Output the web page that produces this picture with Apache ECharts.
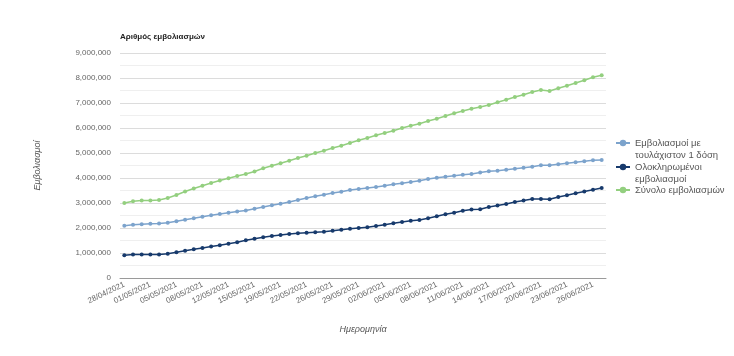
<!DOCTYPE html>
<html>
<head>
<meta charset="utf-8">
<script src="https://cdn.jsdelivr.net/npm/echarts@6/dist/echarts.min.js"></script>
<style>
html,body{margin:0;padding:0;background:#fff;}
#c{width:734px;height:356px;}
</style>
</head>
<body>
<div id="c"></div>
<script>
const dates = [
  "28/04/2021","29/04/2021","30/04/2021","01/05/2021","03/05/2021","04/05/2021","05/05/2021",
  "06/05/2021","07/05/2021","08/05/2021","10/05/2021","11/05/2021","12/05/2021","13/05/2021",
  "14/05/2021","15/05/2021","17/05/2021","18/05/2021","19/05/2021","20/05/2021","21/05/2021",
  "22/05/2021","24/05/2021","25/05/2021","26/05/2021","27/05/2021","28/05/2021","29/05/2021",
  "31/05/2021","01/06/2021","02/06/2021","03/06/2021","04/06/2021","05/06/2021","06/06/2021",
  "07/06/2021","08/06/2021","09/06/2021","10/06/2021","11/06/2021","12/06/2021","13/06/2021",
  "14/06/2021","15/06/2021","16/06/2021","17/06/2021","18/06/2021","19/06/2021","20/06/2021",
  "21/06/2021","22/06/2021","23/06/2021","24/06/2021","25/06/2021","26/06/2021","27/06/2021"
];

const seriesNames = [
  "Εμβολιασμοί με τουλάχιστον 1 δόση",
  "Ολοκληρωμένοι εμβολιασμοί",
  "Σύνολο εμβολιασμών"
];

const firstDose = [
  2090000,2130000,2150000,2170000,2180000,2210000,2270000,2330000,2390000,2450000,
  2510000,2560000,2610000,2660000,2700000,2770000,2840000,2910000,2970000,3040000,
  3120000,3200000,3270000,3330000,3400000,3450000,3520000,3560000,3600000,3640000,
  3690000,3750000,3790000,3840000,3890000,3960000,4010000,4050000,4090000,4130000,
  4160000,4220000,4270000,4290000,4330000,4370000,4410000,4450000,4510000,4510000,
  4550000,4590000,4630000,4670000,4710000,4720000
];

const completed = [
  910000,940000,940000,940000,940000,970000,1030000,1090000,1150000,1200000,
  1260000,1310000,1370000,1430000,1510000,1570000,1630000,1680000,1720000,1760000,
  1790000,1810000,1830000,1850000,1890000,1930000,1970000,2000000,2030000,2080000,
  2130000,2190000,2240000,2290000,2320000,2390000,2470000,2550000,2610000,2690000,
  2740000,2750000,2840000,2900000,2960000,3040000,3100000,3160000,3160000,3150000,
  3240000,3310000,3390000,3460000,3530000,3600000
];

const total = [
  3000000,3070000,3100000,3100000,3120000,3200000,3320000,3460000,3580000,3690000,
  3800000,3900000,3990000,4080000,4160000,4260000,4390000,4490000,4590000,4690000,
  4800000,4890000,5000000,5090000,5200000,5290000,5400000,5510000,5600000,5710000,
  5800000,5890000,6000000,6090000,6170000,6280000,6370000,6480000,6590000,6680000,
  6770000,6840000,6920000,7030000,7130000,7240000,7330000,7440000,7520000,7480000,
  7590000,7690000,7800000,7910000,8030000,8110000
];

// Legend text split in lines; a leading blank line keeps the icon level with the first line
const legendLines = {
  "Εμβολιασμοί με τουλάχιστον 1 δόση": " \nΕμβολιασμοί με\nτουλάχιστον 1 δόση",
  "Ολοκληρωμένοι εμβολιασμοί": " \nΟλοκληρωμένοι\nεμβολιασμοί",
  "Σύνολο εμβολιασμών": "Σύνολο εμβολιασμών"
};

const colors = ["#7ca3cc", "#173a6c", "#93cf7f"];
const FONT = "Liberation Sans, Arial, sans-serif";

function mkLegend(name, iconY, twoLines) {
  return {
    data: [name],
    orient: "vertical",
    left: 615,
    top: twoLines ? iconY - 18 : iconY - 6,
    padding: 0,
    itemWidth: 14,
    itemHeight: 8,
    itemGap: 0,
    formatter: n => legendLines[n],
    textStyle: {
      fontFamily: FONT,
      fontSize: 9.5,
      color: "#555",
      lineHeight: 12
    }
  };
}

function mkSeries(name, data, color) {
  return {
    name: name,
    type: "line",
    data: data,
    symbol: "circle",
    symbolSize: 4,
    showSymbol: true,
    lineStyle: { color: color, width: 1.4 },
    itemStyle: { color: color },
    emphasis: { disabled: true },
    animation: false
  };
}

const chart = echarts.init(document.getElementById("c"), null, { renderer: "canvas" });
chart.setOption({
  backgroundColor: "#fff",
  animation: false,
  textStyle: { fontFamily: FONT },
  title: {
    text: "Αριθμός εμβολιασμών",
    left: 120,
    top: 33,
    padding: 0,
    textStyle: { fontFamily: FONT, fontSize: 8, fontWeight: "bold", color: "#222" }
  },
  legend: [
    mkLegend(seriesNames[0], 143, true),
    mkLegend(seriesNames[1], 167, true),
    mkLegend(seriesNames[2], 190, false)
  ],
  grid: { left: 120, right: 128, top: 53, bottom: 78 },
  xAxis: {
    type: "category",
    data: dates,
    boundaryGap: true,
    name: "Ημερομηνία",
    nameLocation: "middle",
    nameGap: 47,
    nameTextStyle: { fontFamily: FONT, fontSize: 9, fontStyle: "italic", color: "#555" },
    axisLine: { lineStyle: { color: "#9a9a9a", width: 1 } },
    axisTick: { show: false },
    axisLabel: {
      interval: 2,
      rotate: 26,
      fontSize: 8,
      color: "#666",
      margin: 6,
      fontFamily: FONT
    },
    splitLine: { show: false }
  },
  yAxis: {
    type: "value",
    min: 0,
    max: 9000000,
    interval: 1000000,
    name: "Εμβολιασμοί",
    nameLocation: "middle",
    nameGap: 78,
    nameTextStyle: { fontFamily: FONT, fontSize: 9, fontStyle: "italic", color: "#555" },
    axisLine: { show: false },
    axisTick: { show: false },
    axisLabel: {
      fontSize: 8,
      color: "#666",
      margin: 9,
      fontFamily: FONT,
      formatter: v => v.toLocaleString("en-US")
    },
    splitLine: { lineStyle: { color: "#dcdcdc", width: 1 } },
    minorTick: { show: false, splitNumber: 2 },
    minorSplitLine: { show: true, lineStyle: { color: "#efefef", width: 1 } }
  },
  series: [
    mkSeries(seriesNames[0], firstDose, colors[0]),
    mkSeries(seriesNames[1], completed, colors[1]),
    mkSeries(seriesNames[2], total, colors[2])
  ]
});
</script>
</body>
</html>
